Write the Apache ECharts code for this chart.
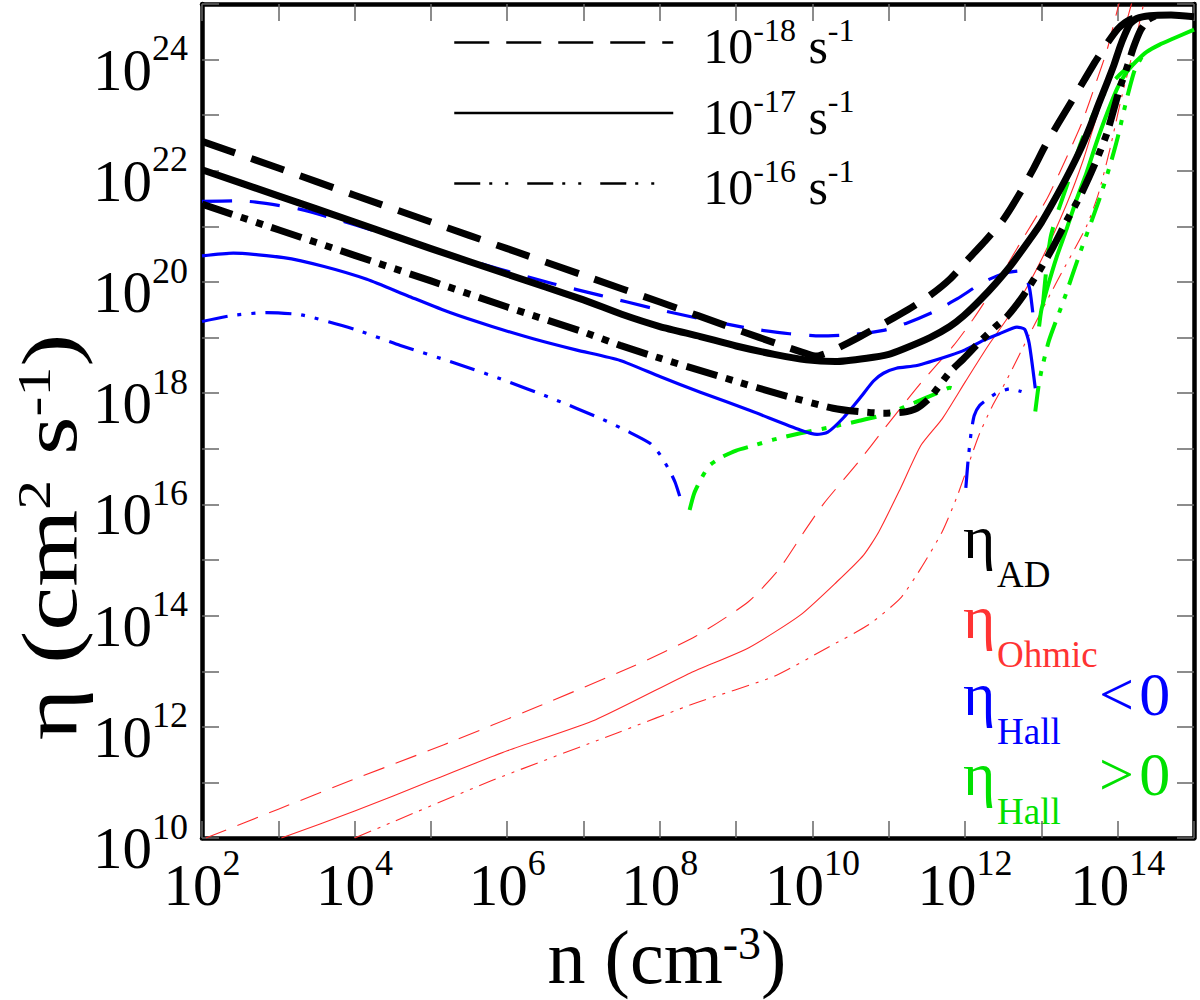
<!DOCTYPE html>
<html>
<head>
<meta charset="utf-8">
<script src="https://cdn.jsdelivr.net/npm/echarts@6/dist/echarts.min.js"></script>
<style>html,body{margin:0;padding:0;background:#fff}#c{width:1200px;height:1000px}</style>
</head>
<body>
<div id="c"></div>
<script>
// Values, stored as [log10 n (cm^-3), log10 eta (cm^2 s^-1)]
const xLabelExponents = [2, 4, 6, 8, 10, 12, 14];
const yLabelExponents = [10, 12, 14, 16, 18, 20, 22, 24];
const rateNames = ['1e-18', '1e-17', '1e-16'];
const rateExponents = ['-18', '-17', '-16'];

// eta_AD (black)
const AD_18 = [[2,22.53],[3,22.05],[4,21.56],[5,21.08],[6,20.6],[7,20.12],[8,19.64],[9,19.15],[9.6,18.86],[9.95,18.7],[10.05,18.67],[10.27,18.77],[10.6,19.0],[10.93,19.25],[11.25,19.5],[11.54,19.76],[11.8,20.05],[12.02,20.38],[12.27,20.75],[12.5,21.12],[12.72,21.6],[12.9,22.05],[13.05,22.45],[13.22,22.85],[13.47,23.42],[13.7,23.95],[13.85,24.27],[14.0,24.55],[14.1,24.67],[14.2,24.74],[14.4,24.79]];
const AD_17 = [[2,22.02],[3,21.55],[4,21.08],[5,20.6],[6,20.14],[7,19.68],[7.5,19.42],[8,19.2],[8.53,19.02],[9,18.85],[9.5,18.7],[9.92,18.6],[10.3,18.57],[10.71,18.63],[11.0,18.7],[11.2,18.8],[11.54,19.0],[11.8,19.2],[11.98,19.39],[12.2,19.68],[12.41,19.99],[12.6,20.3],[12.85,20.77],[13.0,21.07],[13.16,21.45],[13.33,21.88],[13.5,22.35],[13.64,22.8],[13.75,23.2],[13.86,23.58],[13.95,23.9],[14.03,24.23],[14.1,24.47],[14.16,24.64],[14.25,24.74],[14.42,24.79],[14.7,24.8],[15,24.77]];
const AD_16 = [[2,21.40],[3,20.94],[4,20.48],[5,20.02],[6,19.55],[7,19.1],[7.48,18.86],[8,18.63],[8.96,18.23],[9.6,17.97],[10.27,17.73],[10.6,17.67],[10.93,17.64],[11.2,17.66],[11.37,17.73],[11.54,17.92],[11.8,18.38],[11.98,18.62],[12.19,18.92],[12.4,19.2],[12.55,19.38],[12.76,19.75],[12.98,20.22],[13.15,20.62],[13.33,21.1],[13.51,21.55],[13.7,22.12],[13.86,22.68],[14.03,23.5],[14.12,23.85],[14.21,24.23],[14.3,24.53],[14.4,24.72],[14.5,24.79]];

// eta_Hall < 0 (blue)
const HallNeg_18 = [[2,21.45],[2.5,21.46],[3.28,21.31],[4,21.03],[4.6,20.77],[5.3,20.48],[5.91,20.23],[6.6,19.97],[7.22,19.76],[7.9,19.53],[8.53,19.34],[9.2,19.16],[9.7,19.07],[10.1,19.03],[10.5,19.05],[10.93,19.13],[11.25,19.27],[11.58,19.46],[11.9,19.7],[12.24,20.0],[12.5,20.15],[12.72,20.2],[12.79,20.13],[12.85,19.85],[12.9,19.3]];
const HallNeg_17 = [[2,20.47],[2.41,20.52],[3.07,20.44],[3.6,20.28],[4.16,20.05],[4.7,19.75],[5.25,19.45],[5.8,19.2],[6.34,18.98],[6.9,18.78],[7.48,18.59],[8,18.3],[8.53,18.02],[9.2,17.68],[9.84,17.34],[10.06,17.26],[10.2,17.3],[10.4,17.55],[10.62,17.91],[10.8,18.22],[10.93,18.36],[11.1,18.45],[11.37,18.5],[11.8,18.68],[12.0,18.78],[12.24,18.95],[12.45,19.07],[12.68,19.19],[12.78,19.15],[12.84,18.9],[12.92,18.09]];
const HallNeg_16a = [[2,19.29],[2.4,19.4],[2.85,19.45],[3.3,19.41],[4,19.15],[4.6,18.86],[5.3,18.55],[5.91,18.26],[6.6,17.9],[7.22,17.55],[7.6,17.3],[7.87,17.1],[8.0,16.9],[8.13,16.6],[8.2,16.4],[8.26,16.15]];
const HallNeg_16b = [[12.01,16.3],[12.04,16.8],[12.08,17.3],[12.12,17.6],[12.19,17.78],[12.3,17.9],[12.41,18.0],[12.59,18.08],[12.74,18.03]];

// eta_Hall > 0 (green)
const HallPos_18 = [[13.02,19.6],[13.07,20.3],[13.12,20.8],[13.2,21.2],[13.33,21.72],[13.53,22.55],[13.77,23.27],[13.95,23.62],[14.1,23.82],[14.2,23.92]];
const HallPos_17 = [[12.97,19.2],[13.0,19.5],[13.1,20.0],[13.2,20.45],[13.33,20.95],[13.46,21.48],[13.59,21.96],[13.72,22.5],[13.86,23.03],[14.0,23.5],[14.12,23.78],[14.25,23.98],[14.38,24.14],[14.55,24.27],[14.73,24.38],[15.0,24.54]];
const HallPos_16a = [[8.39,15.9],[8.45,16.2],[8.54,16.46],[8.65,16.7],[8.81,16.85],[9.0,16.97],[9.23,17.06],[9.5,17.17],[9.84,17.28],[10.27,17.4],[10.6,17.5],[10.93,17.61],[11.2,17.75],[11.37,17.85],[11.63,18.0],[11.8,18.1],[11.84,18.08],[11.87,17.95]];
const HallPos_16b = [[12.92,17.67],[12.96,18.1],[13.0,18.4],[13.1,18.95],[13.3,19.7],[13.5,20.5],[13.75,21.45],[13.9,22.1],[14.0,22.6],[14.12,23.3],[14.22,23.8],[14.32,24.06]];

// eta_Ohmic (red)
const Ohmic_18 = [[2.05,10.0],[3.0,10.52],[3.94,11.03],[5.17,11.68],[6.41,12.37],[7.65,13.09],[8.47,13.63],[9.16,14.25],[9.57,14.85],[9.92,15.57],[10.15,16.02],[10.6,16.76],[10.94,17.36],[11.4,18.15],[11.85,18.86],[12.11,19.34],[12.4,19.95],[12.7,20.65],[13.07,21.49],[13.27,22.06],[13.53,22.86],[13.72,23.6],[13.86,24.17],[14.01,24.97],[14.06,25.2]];
const Ohmic_17 = [[3.04,10.0],[4.01,10.49],[5,11.03],[6.0,11.57],[7.16,12.13],[8.4,12.97],[9.16,13.42],[9.84,14.01],[10.32,14.61],[10.67,15.09],[10.87,15.51],[11.15,16.28],[11.42,17.06],[11.7,17.54],[12.0,18.2],[12.3,18.85],[12.68,19.6],[13.0,20.4],[13.33,21.4],[13.55,22.2],[13.72,22.95],[13.95,23.87],[14.1,24.6],[14.18,25.0],[14.22,25.2]];
const Ohmic_16 = [[4.0,10.0],[5.79,11.03],[7.44,11.89],[8.47,12.43],[9.5,12.91],[10.19,13.42],[10.74,13.84],[11.15,14.31],[11.42,14.85],[11.7,15.51],[11.9,16.16],[12.18,17.24],[12.35,17.75],[12.55,18.25],[12.86,19.1],[13.2,20.0],[13.59,21.0],[13.75,21.6],[13.9,22.4],[14.03,23.2],[14.21,24.2],[14.34,25.0],[14.38,25.2]];

// ---------- styling ----------
const FONT = "'Liberation Serif','Times New Roman',serif";
const C_BLACK = '#000000', C_RED = '#ff2a2a', C_BLUE = '#0000ff', C_GREEN = '#00f000';
const DASH_BLACK = [35, 17], DDD_BLACK = [32, 9, 7, 9, 7, 9];
const DASH_BLUE = [30, 18], DDD_BLUE = [26, 10, 4, 10, 4, 10];
const DASH_GREEN = [30, 18], DDD_GREEN = [26, 10, 5, 10, 5, 10];
const DASH_RED = [22, 12], DDD_RED = [18, 7, 3, 7, 3, 7];

const toPts = arr => arr.map(p => [Math.pow(10, p[0]), Math.pow(10, p[1])]);

function curve(name, data, color, width, type) {
  return {
    type: 'line', name: name, data: toPts(data),
    xAxisIndex: 0, yAxisIndex: 0,
    symbol: 'none', showSymbol: false, smooth: 0.2,
    clip: true, silent: true, animation: false,
    lineStyle: { color: color, width: width, type: type, cap: 'butt', join: 'round' },
    itemStyle: { color: color }
  };
}

const series = [
  curve('Ohmic 1e-18', Ohmic_18, C_RED, 1.1, DASH_RED),
  curve('Ohmic 1e-17', Ohmic_17, C_RED, 1.1, 'solid'),
  curve('Ohmic 1e-16', Ohmic_16, C_RED, 1.1, DDD_RED),
  curve('Hall>0 1e-18', HallPos_18, C_GREEN, 4, DASH_GREEN),
  curve('Hall>0 1e-17', HallPos_17, C_GREEN, 4, 'solid'),
  curve('Hall>0 1e-16 a', HallPos_16a, C_GREEN, 4, DDD_GREEN),
  curve('Hall>0 1e-16 b', HallPos_16b, C_GREEN, 4, DDD_GREEN),
  curve('Hall<0 1e-18', HallNeg_18, C_BLUE, 3.2, DASH_BLUE),
  curve('Hall<0 1e-17', HallNeg_17, C_BLUE, 3.2, 'solid'),
  curve('Hall<0 1e-16 a', HallNeg_16a, C_BLUE, 3.2, DDD_BLUE),
  curve('Hall<0 1e-16 b', HallNeg_16b, C_BLUE, 3.2, DDD_BLUE),
  curve(rateNames[0], AD_18, C_BLACK, 7, DASH_BLACK),
  curve(rateNames[1], AD_17, C_BLACK, 7, 'solid'),
  curve(rateNames[2], AD_16, C_BLACK, 7, DDD_BLACK)
];

const tickRich = {
  b: { fontSize: 59, fontFamily: FONT, color: '#000', lineHeight: 69, verticalAlign: 'bottom' },
  s: { fontSize: 36, fontFamily: FONT, color: '#000', verticalAlign: 'top' }
};
function expLabel(list) {
  return function (v) {
    const k = Math.round(Math.log10(v));
    return list.indexOf(k) >= 0 ? '{b|10}{s|' + k + '}' : '';
  };
}
const frameLine = { show: true, onZero: false, lineStyle: { color: '#000', width: 4.5 } };
const innerTicks = { show: true, inside: true, length: 17, lineStyle: { color: '#666', width: 1.5 } };

// right-hand annotations: [subscript, tail, colour, row top]
const notes = [
  ['AD', '', C_BLACK, 506],
  ['Ohmic', '', '#ff3333', 586],
  ['Hall', '<\u200a0', C_BLUE, 663],
  ['Hall', '>\u200a0', '#00e000', 743]
];
const noteGraphics = [];
notes.forEach(function (a) {
  noteGraphics.push({
    type: 'text', x: 963, y: a[3] + 31, silent: true,
    style: { text: 'η', fill: a[2], fontFamily: FONT, fontSize: 62, lineHeight: 40, align: 'left', verticalAlign: 'middle' }
  });
  noteGraphics.push({
    type: 'text', x: 997, y: a[3] + 68, silent: true,
    style: { text: a[0], fill: a[2], fontFamily: FONT, fontSize: 37, lineHeight: 28, align: 'left', verticalAlign: 'middle' }
  });
  if (a[1]) {
    noteGraphics.push({
      type: 'text', x: 1099, y: a[3] + 31, silent: true,
      style: { text: a[1], fill: a[2], fontFamily: FONT, fontSize: 62, lineHeight: 40, align: 'left', verticalAlign: 'middle' }
    });
  }
});

// y-axis title (stretched along its length like the reference)
const yTitle = {
  type: 'text', x: 50, y: 537, rotation: Math.PI / 2, scaleX: 1.27, scaleY: 1, silent: true,
  style: {
    text: '{b|η (cm}{s|2}{b| s}{s|-1}{b|)}', align: 'center', verticalAlign: 'middle',
    fill: '#000', fontFamily: FONT, fontSize: 78,
    rich: {
      b: { fontSize: 78, fontFamily: FONT, fill: '#000', lineHeight: 78, verticalAlign: 'bottom' },
      s: { fontSize: 47, fontFamily: FONT, fill: '#000', verticalAlign: 'top' }
    }
  }
};

const option = {
  animation: false,
  backgroundColor: '#fff',
  grid: { left: 202, right: 6, top: 4, bottom: 158, containLabel: false },
  xAxis: [
    {
      type: 'log', logBase: 10, min: 1e2, max: 1e15, interval: 1, position: 'bottom',
      axisLine: frameLine, axisTick: innerTicks, splitLine: { show: false }, minorTick: { show: false },
      axisLabel: { show: true, margin: 7, formatter: expLabel(xLabelExponents), rich: tickRich, fontFamily: FONT, fontSize: 59, color: '#000' },
      name: '{b|n (cm}{s|-3}{b|)}', nameLocation: 'middle', nameGap: 76,
      nameTextStyle: {
        padding: [0, 62, 0, 0], fontFamily: FONT, fontSize: 76, color: '#000',
        rich: {
          b: { fontSize: 76, fontFamily: FONT, color: '#000', lineHeight: 75, verticalAlign: 'bottom' },
          s: { fontSize: 46, fontFamily: FONT, color: '#000', verticalAlign: 'top' }
        }
      }
    },
    {
      type: 'log', logBase: 10, min: 1e2, max: 1e15, interval: 1, position: 'top',
      axisLine: frameLine, axisTick: innerTicks, splitLine: { show: false }, axisLabel: { show: false }
    }
  ],
  yAxis: [
    {
      type: 'log', logBase: 10, min: 1e10, max: 1e25, interval: 1, position: 'left',
      axisLine: frameLine, axisTick: innerTicks, splitLine: { show: false }, minorTick: { show: false },
      axisLabel: { show: true, margin: 14, padding: [10, 0, 0, 0], formatter: expLabel(yLabelExponents), rich: tickRich, fontFamily: FONT, fontSize: 59, color: '#000' }
    },
    {
      type: 'log', logBase: 10, min: 1e10, max: 1e25, interval: 1, position: 'right',
      axisLine: frameLine, axisTick: innerTicks, splitLine: { show: false }, axisLabel: { show: false }
    }
  ],
  legend: {
    show: true, orient: 'vertical', left: 453, top: 14, padding: 0,
    itemWidth: 219, itemHeight: 1, itemGap: 13.5, selectedMode: false,
    lineStyle: { width: 2.5 },
    itemStyle: { opacity: 0, borderWidth: 0 },
    data: [
      { name: rateNames[0], lineStyle: { type: [35, 17] } },
      { name: rateNames[1] },
      { name: rateNames[2], lineStyle: { type: [26, 9, 3, 13, 3, 19] } }
    ],
    formatter: function (name) {
      return '{p|10}{s|' + rateExponents[rateNames.indexOf(name)] + '}{b| s}{s|-1}';
    },
    textStyle: {
      color: '#000', fontFamily: FONT, fontSize: 50,
      rich: {
        p: { fontSize: 50, fontFamily: FONT, color: '#000', lineHeight: 57, verticalAlign: 'bottom', padding: [0, 0, 0, 25] },
        b: { fontSize: 50, fontFamily: FONT, color: '#000', lineHeight: 57, verticalAlign: 'bottom' },
        s: { fontSize: 32, fontFamily: FONT, color: '#000', verticalAlign: 'top' }
      }
    }
  },
  graphic: noteGraphics.concat([yTitle]),
  series: series
};

const chart = echarts.init(document.getElementById('c'), null, { renderer: 'svg', width: 1200, height: 1000 });
chart.setOption(option);
</script>
</body>
</html>
